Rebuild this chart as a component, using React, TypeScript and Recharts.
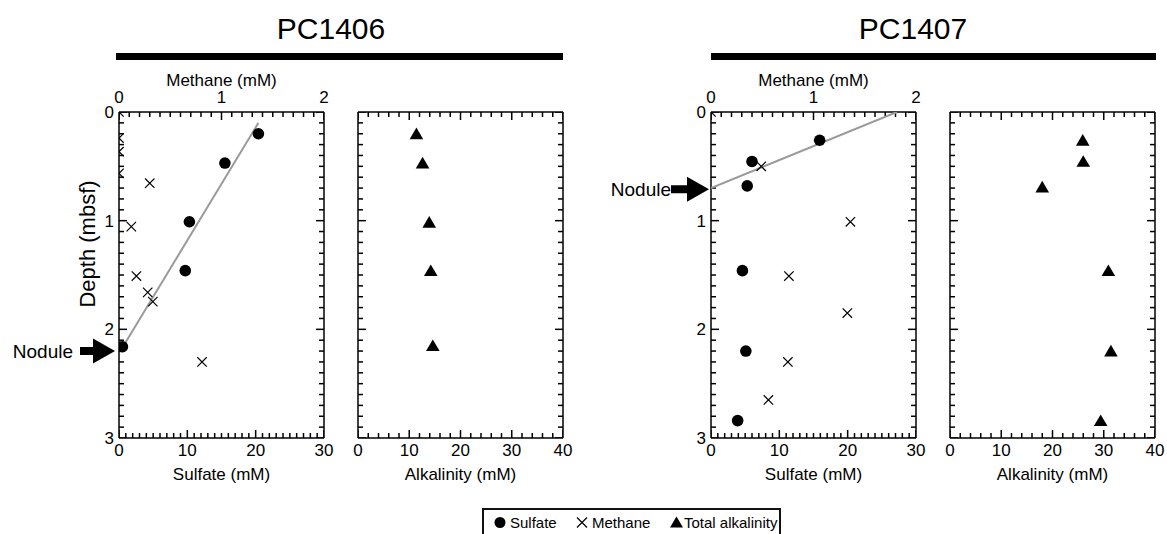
import { ScatterChart, Scatter, XAxis, YAxis, ReferenceDot } from 'recharts';

const FONT = '"Liberation Sans", Arial, Helvetica, sans-serif';

// major (labelled) ticks of each axis
const depthMajor = [0, 1, 2, 3];
const sulfateMajor = [0, 10, 20, 30];
const methaneMajor = [0, 1, 2];
const alkMajor = [0, 10, 20, 30, 40];

// minor tick spacing
const DEPTH_STEP = 0.1;
const SULFATE_STEP = 1;
const METHANE_STEP = 0.1;
const ALK_STEP = 2;

// ---- PC1406 ----
const pc1406SulfateDepth = [0.2, 0.47, 1.01, 1.46, 2.16];
const pc1406Sulfate = [20.4, 15.5, 10.3, 9.7, 0.5];
const pc1406MethaneDepth = [0, 0.24, 0.365, 0.565, 0.655, 1.055, 1.51, 1.66, 1.745, 2.3];
const pc1406Methane = [0, 0, 0, 0, 0.3, 0.12, 0.17, 0.28, 0.33, 0.81];
const pc1406AlkDepth = [0.2, 0.47, 1.015, 1.46, 2.15];
const pc1406Alk = [11.4, 12.6, 13.9, 14.2, 14.6];
const pc1406TrendDepth = [0.1, 2.2];
const pc1406TrendSulfate = [20.4, 0.2];
const pc1406NoduleDepth = 2.2;

// ---- PC1407 ----
const pc1407SulfateDepth = [0.26, 0.455, 0.68, 1.46, 2.2, 2.84];
const pc1407Sulfate = [15.9, 6.0, 5.3, 4.6, 5.1, 3.9];
const pc1407MethaneDepth = [0, 0.5, 1.01, 1.51, 1.85, 2.3, 2.65];
const pc1407Methane = [0, 0.49, 1.36, 0.76, 1.33, 0.75, 0.56];
const pc1407AlkDepth = [0.26, 0.455, 0.69, 1.46, 2.2, 2.84];
const pc1407Alk = [25.9, 26.0, 18.0, 30.9, 31.4, 29.4];
const pc1407TrendDepth = [0.7, 0];
const pc1407TrendSulfate = [0, 27.2];
const pc1407NoduleDepth = 0.71;

// layout
const PLOT_TOP = 112;
const PLOT_H = 326;
const PLOT_W = 205;
const BOTTOM_H = 96;
const RIGHT_W = 16;
const CHART_H = PLOT_TOP + PLOT_H + BOTTOM_H;

const MINOR = 5;
const MAJOR = 8;
const GAP = 5;

type Pt = { x: number; depth: number };
type TickPt = { x: number; depth: number; major: boolean };
type Side = 'left' | 'right' | 'top' | 'bottom';

const zip = (xs: number[], ds: number[]): Pt[] => xs.map((x, i) => ({ x, depth: ds[i] }));

const steps = (max: number, step: number) =>
  Array.from({ length: Math.round(max / step) + 1 }, (_, i) => +(i * step).toFixed(3));

const isMajor = (v: number, majors: number[]) => majors.some((m) => Math.abs(m - v) < 1e-6);

const depthTicks = steps(3, DEPTH_STEP);
const sulfateTicks = steps(30, SULFATE_STEP);
const methaneTicks = steps(2, METHANE_STEP);
const alkTicks = steps(40, ALK_STEP);

// frame tick marks, placed through the chart scales
const edgeY = (xEdge: number): TickPt[] => depthTicks.map((d) => ({ x: xEdge, depth: d, major: isMajor(d, depthMajor) }));
const edgeX = (ticks: number[], majors: number[], depth: number): TickPt[] =>
  ticks.map((v) => ({ x: v, depth, major: isMajor(v, majors) }));

function tickShape(side: Side) {
  return (p: any) => {
    const len = p.payload && p.payload.major ? MAJOR : MINOR;
    const { cx, cy } = p;
    let x2 = cx;
    let y2 = cy;
    if (side === 'left') x2 = cx + len;
    else if (side === 'right') x2 = cx - len;
    else if (side === 'top') y2 = cy + len;
    else y2 = cy - len;
    return <line x1={cx} y1={cy} x2={x2} y2={y2} stroke="#000" strokeWidth={1.5} />;
  };
}
const tickL = tickShape('left');
const tickR = tickShape('right');
const tickT = tickShape('top');
const tickB = tickShape('bottom');

// axis labels only
function labelRenderer(side: Side, majors: number[]) {
  return (props: any) => {
    const x = Number(props.x);
    const y = Number(props.y);
    const v = Number(props.payload.value);
    if (!isMajor(v, majors)) return <g />;
    let tx = x;
    let ty = y;
    let anchor: 'middle' | 'end' = 'middle';
    if (side === 'left') {
      tx = x - GAP;
      ty = y + 6;
      anchor = 'end';
    } else if (side === 'top') {
      ty = y - 9;
    } else {
      ty = y + 18;
    }
    return (
      <text x={tx} y={ty} textAnchor={anchor} fontSize={17} fontFamily={FONT} fill="#000">
        {v}
      </text>
    );
  };
}

const noLabel = () => <g />;

const axisLine = { stroke: '#000', strokeWidth: 1.5 };

const axisCommon = {
  type: 'number' as const,
  allowDataOverflow: true,
  interval: 0 as const,
  tickSize: 0,
  tickMargin: 0,
  tickLine: false,
  axisLine,
};

const labelsSulfate = labelRenderer('bottom', sulfateMajor);
const labelsMethane = labelRenderer('top', methaneMajor);
const labelsDepth = labelRenderer('left', depthMajor);
const labelsAlk = labelRenderer('bottom', alkMajor);

const Dot = (p: any) => <circle cx={p.cx} cy={p.cy} r={5.8} fill="#000" />;
const Cross = (p: any) => (
  <path
    d={`M${p.cx - 4.7},${p.cy - 4.7}L${p.cx + 4.7},${p.cy + 4.7}M${p.cx - 4.7},${p.cy + 4.7}L${p.cx + 4.7},${p.cy - 4.7}`}
    stroke="#000"
    strokeWidth={1.2}
    fill="none"
  />
);
const Tri = (p: any) => (
  <path d={`M${p.cx},${p.cy - 6.2}L${p.cx + 6.8},${p.cy + 5.4}L${p.cx - 6.8},${p.cy + 5.4}Z`} fill="#000" />
);
const Hidden = () => <g />;

function noduleArrow(tipGap: number, shaftLen: number, textGap: number) {
  return (p: any) => {
    const tx = p.cx - tipGap;
    const ty = p.cy;
    const hx = tx - 22;
    const sx = hx - shaftLen;
    return (
      <g>
        <path
          d={`M${tx},${ty}L${hx},${ty - 12.5}L${hx},${ty - 4}L${sx},${ty - 4}L${sx},${ty + 4}L${hx},${ty + 4}L${hx},${ty + 12.5}Z`}
          fill="#000"
        />
        <text x={sx - textGap} y={ty + 7} textAnchor="end" fontSize={19} fontFamily={FONT} fill="#000">
          Nodule
        </text>
      </g>
    );
  };
}

const arrow1406 = noduleArrow(4, 13, 7);
const arrow1407 = noduleArrow(2, 16, 0);

const sulfFrameL = edgeY(0);
const sulfFrameR = edgeY(30);
const sulfFrameB = edgeX(sulfateTicks, sulfateMajor, 3);
const methFrameT = edgeX(methaneTicks, methaneMajor, 0);
const alkFrameL = edgeY(0);
const alkFrameR = edgeY(40);
const alkFrameB = edgeX(alkTicks, alkMajor, 3);
const alkFrameT = edgeX(alkTicks, alkMajor, 0);

interface SulfateProps {
  plotLeft: number;
  leftW: number;
  sulfate: Pt[];
  methane: Pt[];
  trend: Pt[];
  noduleDepth: number;
  arrow: (p: any) => JSX.Element;
}

function SulfatePanel({ plotLeft, leftW, sulfate, methane, trend, noduleDepth, arrow }: SulfateProps) {
  return (
    <div style={{ position: 'absolute', left: plotLeft - leftW, top: 0 }}>
      <ScatterChart
        width={leftW + PLOT_W + RIGHT_W}
        height={CHART_H}
        margin={{ top: 0, right: 0, bottom: 0, left: 0 }}
        style={{ overflow: 'visible' }}
      >
        <XAxis
          {...axisCommon}
          xAxisId="so4"
          dataKey="x"
          orientation="bottom"
          domain={[0, 30]}
          ticks={sulfateTicks}
          height={BOTTOM_H}
          tick={labelsSulfate}
          label={{ value: 'Sulfate (mM)', position: 'insideTop', offset: 30, fill: '#000', fontSize: 17, fontFamily: FONT }}
        />
        <XAxis
          {...axisCommon}
          xAxisId="ch4"
          dataKey="x"
          orientation="top"
          domain={[0, 2]}
          ticks={methaneTicks}
          height={PLOT_TOP}
          tick={labelsMethane}
          label={{ value: 'Methane (mM)', position: 'insideBottom', offset: 26.5, fill: '#000', fontSize: 17, fontFamily: FONT }}
        />
        <YAxis
          {...axisCommon}
          yAxisId="depth"
          dataKey="depth"
          domain={[0, 3]}
          reversed
          ticks={depthTicks}
          width={leftW}
          tick={labelsDepth}
        />
        <YAxis
          {...axisCommon}
          yAxisId="depthR"
          orientation="right"
          domain={[0, 3]}
          reversed
          ticks={depthMajor}
          width={RIGHT_W}
          tick={noLabel}
        />
        <Scatter data={sulfFrameL} xAxisId="so4" yAxisId="depth" shape={tickL} isAnimationActive={false} />
        <Scatter data={sulfFrameR} xAxisId="so4" yAxisId="depth" shape={tickR} isAnimationActive={false} />
        <Scatter data={sulfFrameB} xAxisId="so4" yAxisId="depth" shape={tickB} isAnimationActive={false} />
        <Scatter data={methFrameT} xAxisId="ch4" yAxisId="depth" shape={tickT} isAnimationActive={false} />
        <Scatter
          data={trend}
          xAxisId="so4"
          yAxisId="depth"
          line={{ stroke: '#9a9a9a', strokeWidth: 2 }}
          shape={Hidden}
          isAnimationActive={false}
        />
        <Scatter data={sulfate} xAxisId="so4" yAxisId="depth" shape={Dot} isAnimationActive={false} />
        <Scatter data={methane} xAxisId="ch4" yAxisId="depth" shape={Cross} isAnimationActive={false} />
        <ReferenceDot x={0} y={noduleDepth} xAxisId="so4" yAxisId="depth" shape={arrow} />
      </ScatterChart>
    </div>
  );
}

function AlkPanel({ plotLeft, alk }: { plotLeft: number; alk: Pt[] }) {
  const leftW = 30;
  return (
    <div style={{ position: 'absolute', left: plotLeft - leftW, top: 0 }}>
      <ScatterChart
        width={leftW + PLOT_W + RIGHT_W}
        height={CHART_H}
        margin={{ top: 0, right: 0, bottom: 0, left: 0 }}
        style={{ overflow: 'visible' }}
      >
        <XAxis
          {...axisCommon}
          xAxisId="alk"
          dataKey="x"
          orientation="bottom"
          domain={[0, 40]}
          ticks={alkTicks}
          height={BOTTOM_H}
          tick={labelsAlk}
          label={{ value: 'Alkalinity (mM)', position: 'insideTop', offset: 30, fill: '#000', fontSize: 17, fontFamily: FONT }}
        />
        <XAxis
          {...axisCommon}
          xAxisId="alkTop"
          orientation="top"
          domain={[0, 40]}
          ticks={alkMajor}
          height={PLOT_TOP}
          tick={noLabel}
        />
        <YAxis
          {...axisCommon}
          yAxisId="depth"
          dataKey="depth"
          domain={[0, 3]}
          reversed
          ticks={depthMajor}
          width={leftW}
          tick={noLabel}
        />
        <YAxis
          {...axisCommon}
          yAxisId="depthR"
          orientation="right"
          domain={[0, 3]}
          reversed
          ticks={depthMajor}
          width={RIGHT_W}
          tick={noLabel}
        />
        <Scatter data={alkFrameL} xAxisId="alk" yAxisId="depth" shape={tickL} isAnimationActive={false} />
        <Scatter data={alkFrameR} xAxisId="alk" yAxisId="depth" shape={tickR} isAnimationActive={false} />
        <Scatter data={alkFrameB} xAxisId="alk" yAxisId="depth" shape={tickB} isAnimationActive={false} />
        <Scatter data={alkFrameT} xAxisId="alk" yAxisId="depth" shape={tickT} isAnimationActive={false} />
        <Scatter data={alk} xAxisId="alk" yAxisId="depth" shape={Tri} isAnimationActive={false} />
      </ScatterChart>
    </div>
  );
}

export default function App() {
  return (
    <div
      style={{
        position: 'absolute',
        left: 0,
        top: 0,
        width: 1167,
        height: 534,
        background: '#fff',
        overflow: 'hidden',
        fontFamily: FONT,
      }}
    >
      <SulfatePanel
        plotLeft={119}
        leftW={119}
        sulfate={zip(pc1406Sulfate, pc1406SulfateDepth)}
        methane={zip(pc1406Methane, pc1406MethaneDepth)}
        trend={zip(pc1406TrendSulfate, pc1406TrendDepth)}
        noduleDepth={pc1406NoduleDepth}
        arrow={arrow1406}
      />
      <AlkPanel plotLeft={358} alk={zip(pc1406Alk, pc1406AlkDepth)} />
      <SulfatePanel
        plotLeft={711}
        leftW={111}
        sulfate={zip(pc1407Sulfate, pc1407SulfateDepth)}
        methane={zip(pc1407Methane, pc1407MethaneDepth)}
        trend={zip(pc1407TrendSulfate, pc1407TrendDepth)}
        noduleDepth={pc1407NoduleDepth}
        arrow={arrow1407}
      />
      <AlkPanel plotLeft={949.5} alk={zip(pc1407Alk, pc1407AlkDepth)} />

      <svg
        width={1167}
        height={534}
        style={{ position: 'absolute', left: 0, top: 0, pointerEvents: 'none' }}
        fontFamily={FONT}
      >
        <text x={331} y={39} textAnchor="middle" fontSize={30} fill="#000">PC1406</text>
        <rect x={116} y={53} width={447} height={7} fill="#000" />
        <text x={913} y={39} textAnchor="middle" fontSize={30} fill="#000">PC1407</text>
        <rect x={711} y={53} width={445} height={7} fill="#000" />
        <text transform="translate(95,244) rotate(-90)" textAnchor="middle" fontSize={22} fill="#000">
          Depth (mbsf)
        </text>

        <rect x={483} y={509} width={297} height={40} fill="#fff" stroke="#111" strokeWidth={2} />
        <circle cx={500} cy={522.5} r={5.5} fill="#000" />
        <text x={510} y={528} fontSize={15} fill="#000">Sulfate</text>
        <path d="M577,517.5L587,527.5M577,527.5L587,517.5" stroke="#000" strokeWidth={1.2} />
        <text x={592} y={528} fontSize={15} fill="#000">Methane</text>
        <path d="M676.5,516.5L683,527.5L670,527.5Z" fill="#000" />
        <text x={684} y={528} fontSize={15} fill="#000">Total alkalinity</text>
      </svg>
    </div>
  );
}
